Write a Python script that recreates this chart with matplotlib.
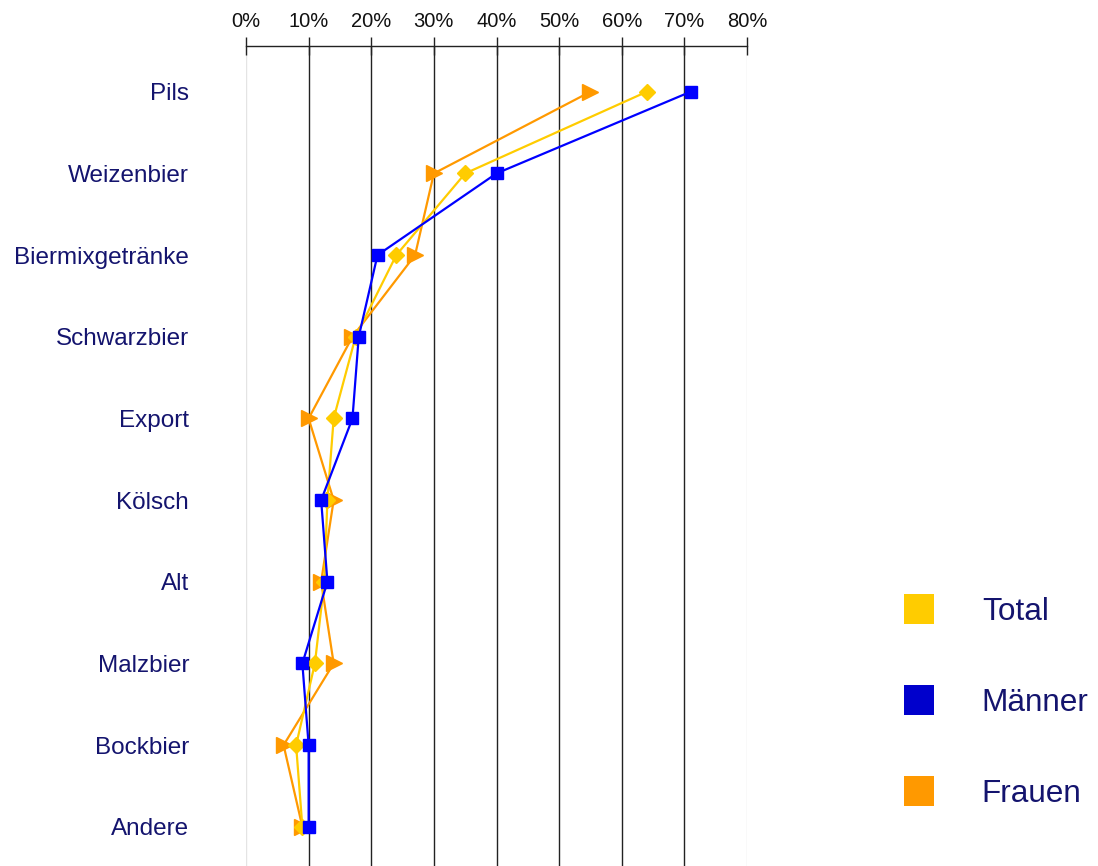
import matplotlib
matplotlib.use("Agg")
import matplotlib.pyplot as plt
from matplotlib.lines import Line2D

categories = ["Pils", "Weizenbier", "Biermixgetränke", "Schwarzbier", "Export",
              "Kölsch", "Alt", "Malzbier", "Bockbier", "Andere"]
total = [64, 35, 24, 17.5, 14, 13, 12.5, 11, 8, 9]
maenner = [71, 40, 21, 18, 17, 12, 13, 9, 10, 10]
frauen = [55, 30, 27, 17, 10, 14, 12, 14, 6, 9]
xticks = [0, 10, 20, 30, 40, 50, 60, 70, 80]
xticklabels = [f"{t}%" for t in xticks]

NAVY = "#14146e"
C_TOTAL = "#ffcc00"
C_MAENNER = "#0000ff"
C_MAENNER_LEG = "#0000cc"
C_FRAUEN = "#ff9900"
FONT = ["Liberation Sans", "DejaVu Sans"]

fig = plt.figure(figsize=(10.98, 8.66), dpi=100)
ax = fig.add_axes([246/1098, 0, (747-246)/1098, 1-46/866])

y = list(range(len(categories)))
ax.set_xlim(0, 80)
ax.set_ylim(9.48, -0.56)

for t in xticks:
    col = "#e4e4e4" if t in (0, 80) else "#222222"
    ax.axvline(t, color=col, lw=1.0, zorder=0)

ax.plot(frauen, y, color=C_FRAUEN, lw=1.6, marker=">", markersize=11, zorder=3)
ax.plot(total, y, color=C_TOTAL, lw=1.6, marker="D", markersize=8.5, zorder=4)
ax.plot(maenner, y, color=C_MAENNER, lw=1.6, marker="s", markersize=9, zorder=5)

for s in ["left", "right", "bottom"]:
    ax.spines[s].set_visible(False)
ax.spines["top"].set_color("#222222")
ax.spines["top"].set_linewidth(1.0)

ax.xaxis.tick_top()
ax.set_xticks(xticks)
ax.set_xticklabels(xticklabels, fontsize=14.5, family=FONT, color="#111111")
ax.tick_params(axis="x", direction="inout", length=13, width=1.0, color="#222222", pad=4)

ax.set_yticks(y)
ax.set_yticklabels(categories, fontsize=17.5, family=FONT, color=NAVY)
ax.tick_params(axis="y", length=0, pad=41)

handles = [
    Line2D([], [], ls="none", marker="s", markersize=22, color=C_TOTAL, markeredgewidth=0),
    Line2D([], [], ls="none", marker="s", markersize=22, color=C_MAENNER_LEG, markeredgewidth=0),
    Line2D([], [], ls="none", marker="s", markersize=22, color=C_FRAUEN, markeredgewidth=0),
]
leg = fig.legend(handles, ["Total", "Männer", "Frauen"], loc="upper left",
                 bbox_to_anchor=(903/1098, 1-597/866), frameon=False,
                 borderaxespad=0, borderpad=0,
                 prop={"family": FONT, "size": 22.7}, labelcolor=NAVY,
                 labelspacing=1.93, handletextpad=1.5, handlelength=1.0)

fig.savefig("out.png", dpi=100)
